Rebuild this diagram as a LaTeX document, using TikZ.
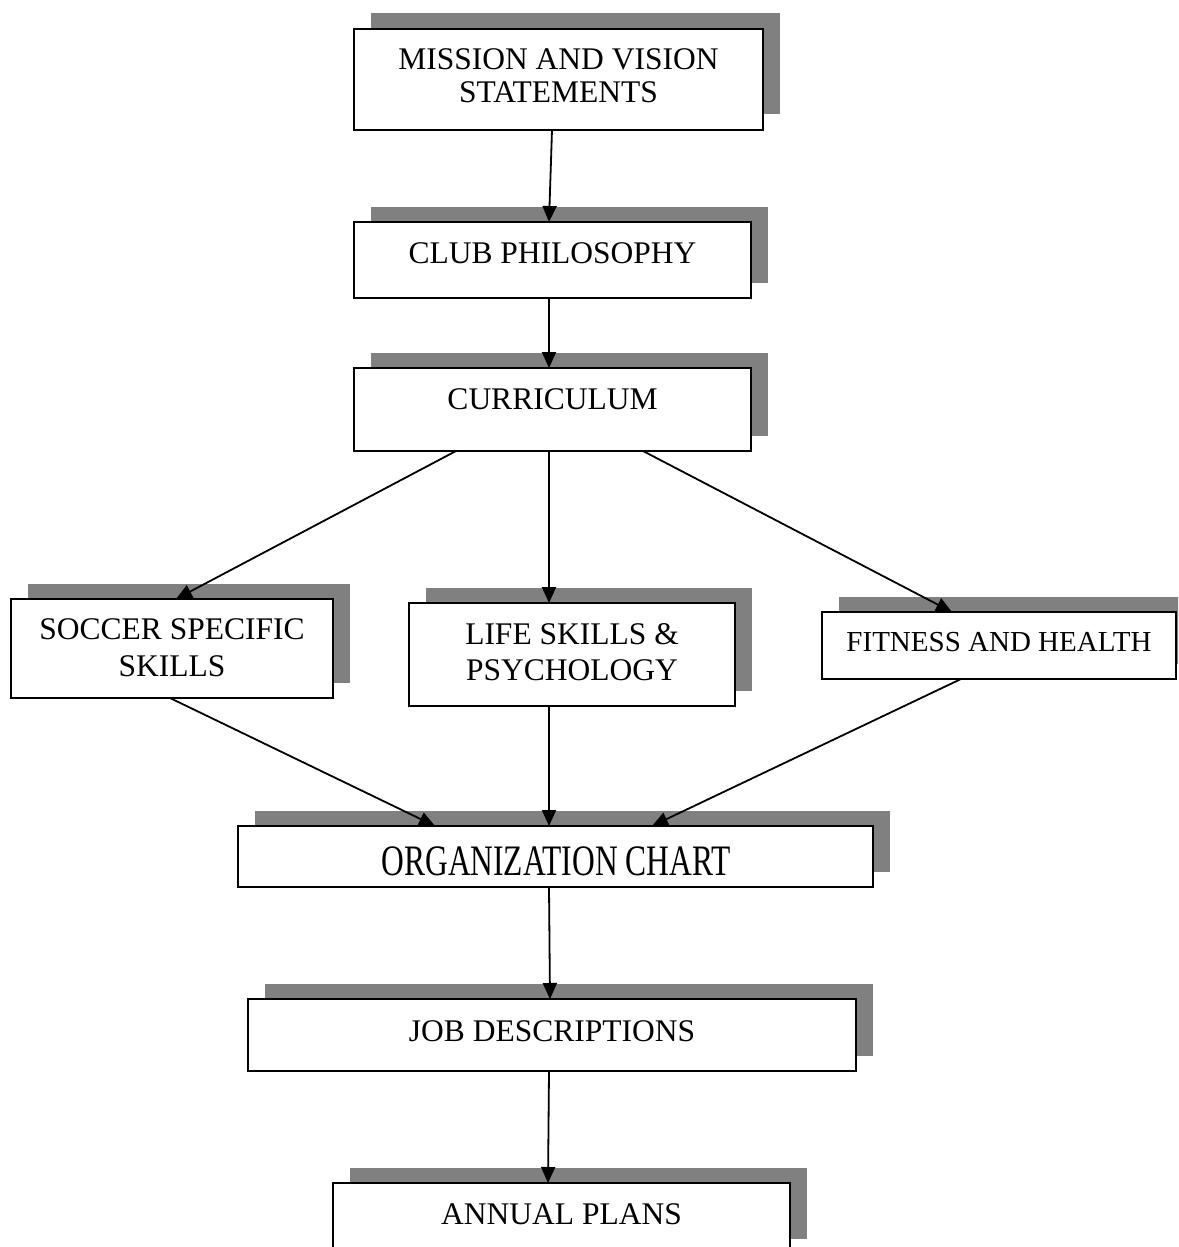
\documentclass[tikz,border=0pt]{standalone}
\usepackage{fontspec}
\setmainfont{Liberation Serif}
\usetikzlibrary{arrows.meta,shadows,calc}
\definecolor{shgray}{RGB}{128,128,128}
\begin{document}
\begin{tikzpicture}[x=0.5pt,y=-0.5pt,
  box/.style={draw=black,line width=1.2pt,fill=white,inner sep=0pt,outer sep=0pt,anchor=north west,
    drop shadow={shadow xshift=8.25pt,shadow yshift=7.75pt,fill=shgray,opacity=1}},
  txt/.style={anchor=base,inner sep=0pt,align=center,text=black},
  arr/.style={line width=0.9pt,-{Triangle[length=8pt,width=7pt]}}]
\useasboundingbox (0,0) rectangle (1178,1247);
\clip (0,0) rectangle (1178,1247);

% boxes
\node[box,minimum width=204.5pt,minimum height=50.5pt] (b1) at (354,29) {};
\node[box,minimum width=198.5pt,minimum height=38pt]   (b2) at (354,222) {};
\node[box,minimum width=198.5pt,minimum height=41.5pt] (b3) at (354,368) {};
\node[box,minimum width=161pt,minimum height=49.5pt]   (b4) at (11,599) {};
\node[box,minimum width=163pt,minimum height=51.5pt]   (b5) at (409,603) {};
\node[box,minimum width=177pt,minimum height=33.5pt]   (b6) at (822,612) {};
\node[box,minimum width=317.5pt,minimum height=30.5pt] (b7) at (238,826) {};
\node[box,minimum width=304pt,minimum height=36pt]     (b8) at (248,999) {};
\node[box,minimum width=228.5pt,minimum height=35.5pt] (b9) at (333,1183) {};

% texts (base anchor = last line's baseline)
\node[txt,font=\fontsize{15.75pt}{16.5pt}\selectfont] (t1) at (558.5,103) {MISSION AND VISION\\STATEMENTS};
\node[txt,font=\fontsize{15.75pt}{18pt}\selectfont] (t2) at (552.5,263) {CLUB PHILOSOPHY};
\node[txt,font=\fontsize{15.75pt}{18pt}\selectfont] (t3) at (552.5,409) {CURRICULUM};
\node[txt,font=\fontsize{15.75pt}{18.5pt}\selectfont] (t4) at (172,676) {SOCCER SPECIFIC\\SKILLS};
\node[txt,font=\fontsize{15.75pt}{18pt}\selectfont] (t5) at (572,680) {LIFE SKILLS \&\\PSYCHOLOGY};
\node[txt,font=\fontsize{14.5pt}{17pt}\selectfont] (t6) at (999,651) {FITNESS AND HEALTH};
\node[txt,font=\fontsize{15.75pt}{18pt}\selectfont] (t7) at (556,875) {\scalebox{1}[1.38]{ORGANIZATION CHART}};
\node[txt,font=\fontsize{15.75pt}{18pt}\selectfont] (t8) at (552,1041) {JOB DESCRIPTIONS};
\node[txt,font=\fontsize{15.75pt}{18pt}\selectfont] (t9) at (561.5,1224) {ANNUAL PLANS};

% connectors
\draw[arr] ($(b1.south west)+(198,0)$) -- ($(b2.north west)+(195,0)$);
\draw[arr] ($(b2.south west)+(195,0)$) -- ($(b3.north west)+(195,0)$);
\draw[arr] ($(b3.south west)+(102,0)$) -- ($(b4.north west)+(165,0)$);
\draw[arr] ($(b3.south west)+(195,0)$) -- ($(b5.north west)+(140,0)$);
\draw[arr] ($(b3.south west)+(289,0)$) -- ($(b6.north west)+(130,0)$);
\draw[arr] ($(b4.south west)+(159,0)$) -- ($(b7.north west)+(197,0)$);
\draw[arr] ($(b5.south west)+(140,0)$) -- ($(b7.north west)+(311,0)$);
\draw[arr] ($(b6.south west)+(139,0)$) -- ($(b7.north west)+(414,0)$);
\draw[arr] ($(b7.south west)+(311,0)$) -- ($(b8.north west)+(302,0)$);
\draw[arr] ($(b8.south west)+(301,0)$) -- ($(b9.north west)+(215,0)$);
\end{tikzpicture}
\end{document}
